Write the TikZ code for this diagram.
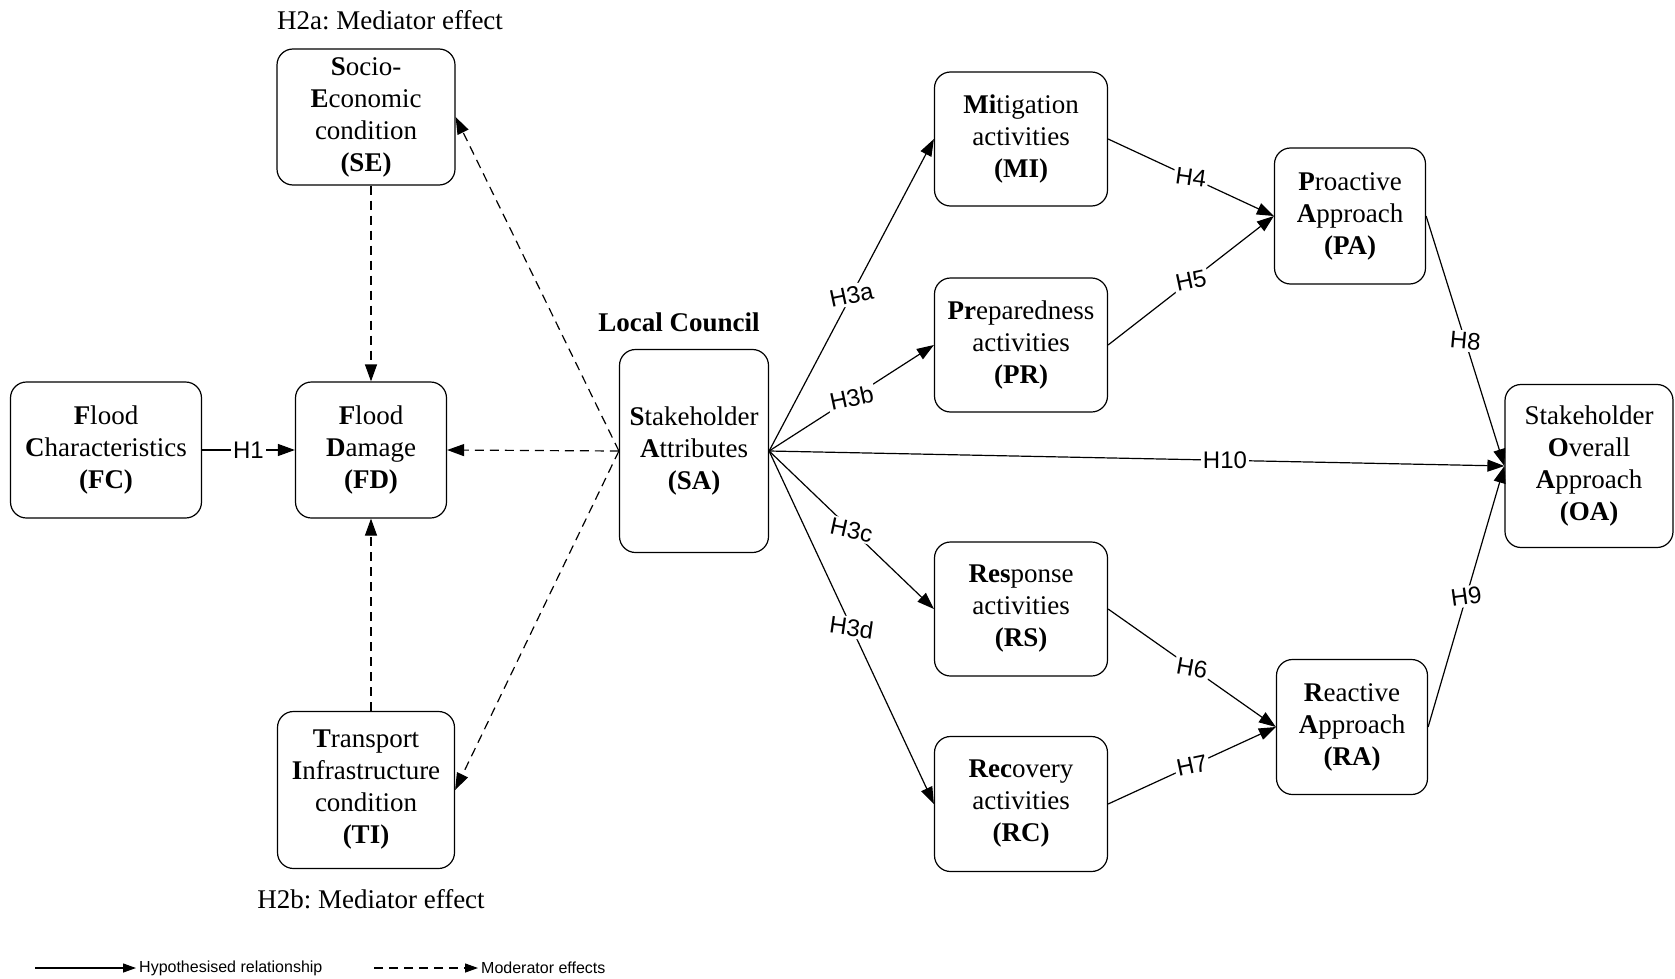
\documentclass[tikz,border=0pt]{standalone}
\usepackage{fontspec}
\setmainfont{Liberation Serif}
\newfontfamily\arialfont{Liberation Sans}
\usepackage{tikz}
\usetikzlibrary{positioning,arrows.meta}
\frenchspacing

\newcommand{\boxfont}{\fontsize{27}{32}\selectfont}
\newcommand{\hfont}{\arialfont\fontsize{24}{28}\selectfont}

\tikzset{
  factor/.style={draw, rounded corners=16pt, align=center, line width=1.2pt, font=\boxfont, inner sep=2pt},
  hyp/.style={line width=1.2pt, -{Triangle[length=17pt,width=12pt]}},
  moder/.style={hyp, dash pattern=on 9pt off 6pt},
  hlab/.style={font=\hfont, fill=white, inner sep=2pt, pos=0.5},
}

\begin{document}
\begin{tikzpicture}[x=1pt, y=-1pt]
        \useasboundingbox[fill=white] (0,0) rectangle (1675,979);
        % left part
        \node[factor, minimum width=191pt, minimum height=136pt] (fc) at (106,450) {\textbf{F}lood\\\textbf{C}haracteristics\\\textbf{(FC)}};
        \node[factor, minimum width=151pt, minimum height=136pt] (fd) at (371,450) {\textbf{F}lood\\\textbf{D}amage\\\textbf{(FD)}};
        \node[factor, minimum width=178pt, minimum height=136pt] (se) at (366,117) {\textbf{S}ocio-\\\textbf{E}conomic\\condition\\\textbf{(SE)}};
        \node[factor, minimum width=177pt, minimum height=157pt] (ti) at (366,790) {\textbf{T}ransport\\\textbf{I}nfrastructure\\condition\\\textbf{(TI)}};
        \node[font=\boxfont] (h2a) at (390,20) {H2a: Mediator effect};
        \node[font=\boxfont] (h2b) at (371,899) {H2b: Mediator effect};

        % local council
        \node[factor, minimum width=149pt, minimum height=203pt] (sa) at (694,451) {\textbf{S}takeholder\\\textbf{A}ttributes\\\textbf{(SA)}};
        \node[font=\boxfont\bfseries] (lc) at (679,322) {Local Council};

        % activities
        \node[factor, minimum width=173pt, minimum height=134pt] (mi) at (1021,139) {\textbf{Mi}tigation\\activities\\\textbf{(MI)}};
        \node[factor, minimum width=173pt, minimum height=134pt] (pr) at (1021,345) {\textbf{Pr}eparedness\\activities\\\textbf{(PR)}};
        \node[factor, minimum width=173pt, minimum height=134pt] (rs) at (1021,609) {\textbf{Res}ponse\\activities\\\textbf{(RS)}};
        \node[factor, minimum width=173pt, minimum height=135pt] (rc) at (1021,804) {\textbf{Rec}overy\\activities\\\textbf{(RC)}};

        % approaches
        \node[factor, minimum width=151pt, minimum height=136pt] (pa) at (1350,216) {\textbf{P}roactive\\\textbf{A}pproach\\\textbf{(PA)}};
        \node[factor, minimum width=151pt, minimum height=135pt] (ra) at (1352,727) {\textbf{R}eactive\\\textbf{A}pproach\\\textbf{(RA)}};
        \node[factor, minimum width=168pt, minimum height=163pt] (oa) at (1589,466) {Stakeholder\\\textbf{O}verall\\\textbf{A}pproach\\\textbf{(OA)}};

        % moderator effects
        \draw[moder] (se.south -| fd.north) -- (fd.north);
        \draw[moder] (ti.north -| fd.south) -- (fd.south);
        \draw[moder] (sa.west) -- (fd.east);
        \draw[moder] (sa.west) -- (se.east);
        \draw[moder] (sa.west) -- (ti.east);

        % hypothesised relationships
        \draw[hyp] (fc) -- node[hlab] {H1} (fd);
        \draw[hyp] (sa.east) -- node[hlab, rotate=12] {H3a} (mi.west);
        \draw[hyp] (sa.east) -- node[hlab, rotate=12] {H3b} (pr.west);
        \draw[hyp] (sa.east) -- node[hlab, rotate=-12] {H3c} (rs.west);
        \draw[hyp] (sa.east) -- node[hlab, rotate=-8] {H3d} (rc.west);
        \draw[hyp] (sa.east) -- node[hlab, pos=0.62] {H10} (oa.west);
        \draw[hyp] (mi.east) -- node[hlab, rotate=-8] {H4} (pa.west);
        \draw[hyp] (pr.east) -- node[hlab, rotate=12] {H5} (pa.west);
        \draw[hyp] (rs.east) -- node[hlab, rotate=-10] {H6} (ra.west);
        \draw[hyp] (rc.east) -- node[hlab, rotate=12] {H7} (ra.west);
        \draw[hyp] (pa.east) -- node[hlab, rotate=-5] {H8} (oa.west);
        \draw[hyp] (ra.east) -- node[hlab, rotate=8] {H9} (oa.west);

        % legend
        \coordinate (leg1) at (35,968);
        \node[anchor=west, font=\arialfont\fontsize{16}{19}\selectfont, inner sep=0pt] (legt1) at (139,968) {Hypothesised relationship};
        \coordinate (leg2) at (374,968);
        \node[anchor=west, font=\arialfont\fontsize{16}{19}\selectfont, inner sep=0pt] (legt2) at (481,968) {Moderator effects};
        \draw[line width=1.2pt, -{Triangle[length=13pt,width=9pt]}] (leg1) -- ([xshift=-3pt]legt1.west);
        \draw[line width=1.2pt, dash pattern=on 9pt off 6pt, -{Triangle[length=13pt,width=9pt]}] (leg2) -- ([xshift=-3pt]legt2.west);
\end{tikzpicture}
\end{document}
